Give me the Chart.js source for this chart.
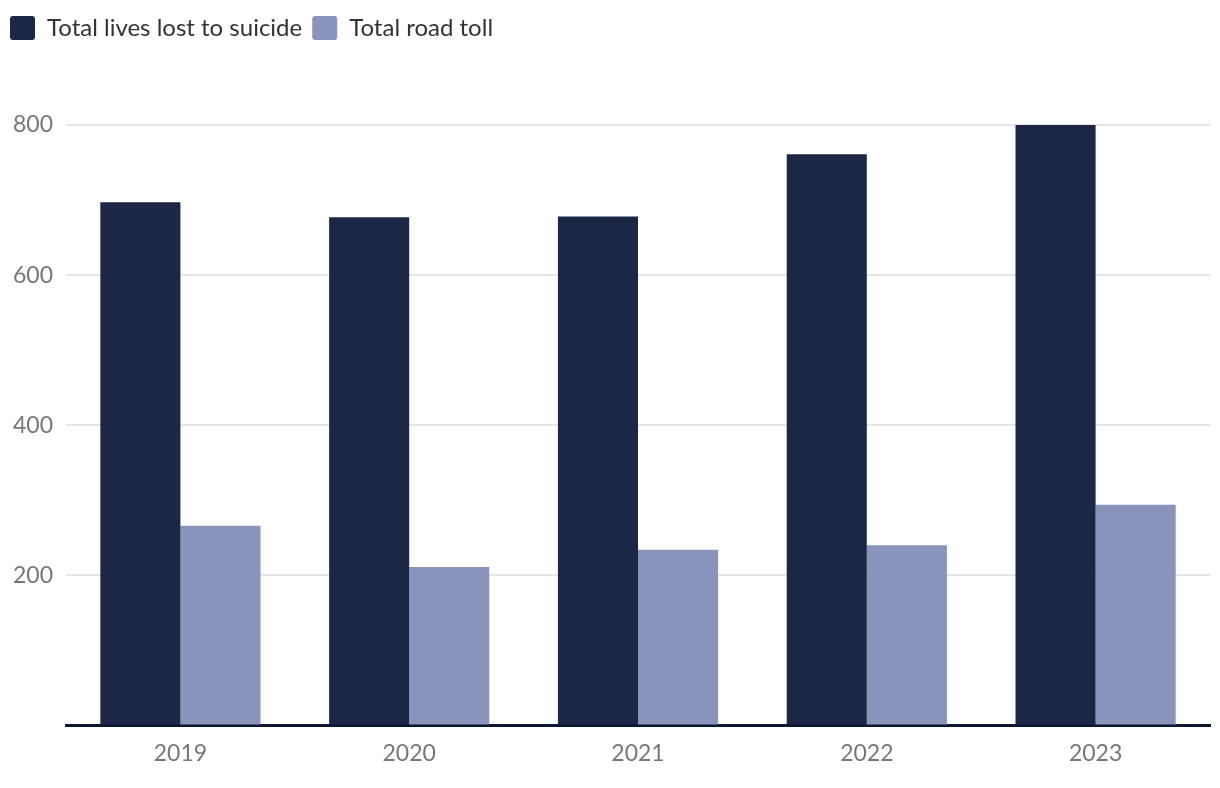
<!DOCTYPE html>
<html>
<head>
<meta charset="utf-8">
<script src="https://cdn.jsdelivr.net/npm/chart.js@4"></script>
<style>
  html, body { margin: 0; padding: 0; background: #fff; }
  #wrap { width: 1220px; height: 788px; }
</style>
</head>
<body>
<div id="wrap"><canvas id="chart"></canvas></div>
<script>
const years = ['2019', '2020', '2021', '2022', '2023'];
const suicide = [697, 677, 678, 761, 800];
const roadToll = [266, 211, 234, 240, 294];
const yTicks = [200, 400, 600, 800];

const font = 'Lato, "Noto Sans", sans-serif';

// push the plot down below the legend
const legendGap = {
  id: 'legendGap',
  afterInit(chart) {
    const fit = chart.legend.fit;
    chart.legend.fit = function () {
      fit.bind(chart.legend)();
      this.height += 75;
    };
  }
};

window.onload = function () {
  const ctx = document.querySelector('#chart');
  new Chart(ctx, {
    type: 'bar',
    data: {
      labels: years,
      datasets: [
        { label: 'Total lives lost to suicide', data: suicide, backgroundColor: '#1b2745' },
        { label: 'Total road toll', data: roadToll, backgroundColor: '#8a93bb' }
      ]
    },
    options: {
      responsive: true,
      maintainAspectRatio: false,
      animation: false,
      layout: { padding: { top: 6, left: 0, right: 10, bottom: 7 } },
      datasets: { bar: { categoryPercentage: 0.7, barPercentage: 1.0 } },
      plugins: {
        tooltip: { enabled: false },
        legend: {
          align: 'start',
          labels: {
            boxWidth: 25,
            boxHeight: 24,
            useBorderRadius: true,
            borderRadius: 3,
            padding: 10,
            color: '#333',
            font: { family: font, size: 24 }
          }
        }
      },
      scales: {
        x: {
          grid: { display: false, drawTicks: false },
          border: { color: '#0d1633', width: 3 },
          ticks: { color: '#777', padding: 14, font: { family: font, size: 23 } }
        },
        y: {
          min: 0,
          max: 800,
          afterBuildTicks(scale) {
            scale.ticks = [0].concat(yTicks).map(v => ({ value: v }));
          },
          border: { display: false },
          grid: { color: '#e6e6e6', lineWidth: 2, drawTicks: false },
          ticks: {
            color: '#777',
            padding: 13,
            font: { family: font, size: 23 },
            callback: v => (v === 0 ? '' : v)
          }
        }
      }
    },
    plugins: [legendGap]
  });
};
</script>
</body>
</html>
